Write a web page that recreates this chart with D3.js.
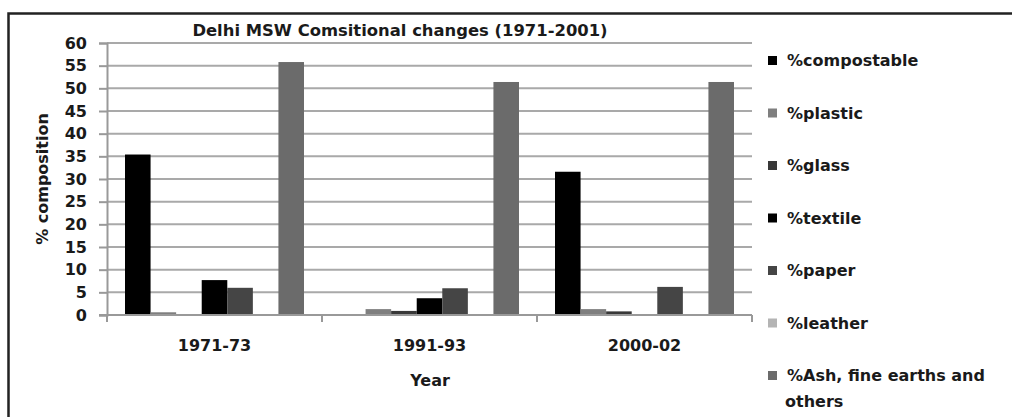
<!DOCTYPE html>
<html>
<head>
<meta charset="utf-8">
<script src="https://cdn.jsdelivr.net/npm/d3@7"></script>
<style>
  body { margin: 0; background: #fff; }
  svg text { font-family: "DejaVu Sans", sans-serif; font-weight: bold; fill: #1a1a1a; }
</style>
</head>
<body>
<svg class="chart"></svg>
<script>
const size = {w: 1012, h: 417};

// categories and series
const years = ['1971-73', '1991-93', '2000-02'];
const seriesNames = ['%compostable', '%plastic', '%glass', '%textile', '%paper', '%leather', '%Ash, fine earths and others'];
const seriesColors = ['#000000', '#7f7f7f', '#383838', '#000000', '#454545', '#b4b4b4', '#6b6b6b'];

const compostable = [35.4, 0, 31.6];
const plastic = [0.6, 1.3, 1.3];
const glass = [0, 0.9, 0.8];
const textile = [7.7, 3.7, 0];
const paper = [6.0, 5.9, 6.2];
const leather = [0, 0, 0];
const ash = [55.8, 51.4, 51.4];

const yTicks = [0, 5, 10, 15, 20, 25, 30, 35, 40, 45, 50, 55, 60];

const seriesValues = [compostable, plastic, glass, textile, paper, leather, ash];

const svg = d3.select('svg.chart')
    .attr('width', size.w)
    .attr('height', size.h);

svg.append('rect')
    .attr('width', size.w).attr('height', size.h)
    .attr('fill', '#fff');

// frame (only left and top edges are visible in the picture)
svg.append('path')
    .attr('d', `M8.5,${size.h} V13.5 H${size.w}`)
    .attr('fill', 'none')
    .attr('stroke', '#222')
    .attr('stroke-width', 2.5);

const plot = {left: 107, right: 752, top: 43, bottom: 315};

const x0 = d3.scaleBand()
    .domain(years)
    .range([plot.left, plot.right]);

const x1 = d3.scaleBand()
    .domain(d3.range(seriesNames.length))
    .range([18, 197]);

const y = d3.scaleLinear()
    .domain([0, 60])
    .range([plot.bottom, plot.top]);

// gridlines
svg.append('g')
    .selectAll('line')
    .data(yTicks.filter(d => d > 0))
    .join('line')
    .attr('x1', plot.left)
    .attr('x2', plot.right)
    .attr('y1', d => y(d))
    .attr('y2', d => y(d))
    .attr('stroke', '#a9a9a9')
    .attr('stroke-width', 2);

// bars
const groups = svg.append('g')
    .selectAll('g')
    .data(years)
    .join('g')
    .attr('transform', d => `translate(${x0(d)},0)`);

groups.selectAll('rect')
    .data((d, i) => seriesValues.map((vals, s) => ({s: s, v: vals[i]})))
    .join('rect')
    .attr('x', d => x1(d.s))
    .attr('width', x1.bandwidth())
    .attr('y', d => y(d.v))
    .attr('height', d => y(0) - y(d.v))
    .attr('fill', d => seriesColors[d.s]);

// y axis
const yAxis = svg.append('g')
    .attr('transform', `translate(${plot.left},0)`)
    .call(d3.axisLeft(y).tickValues(yTicks).tickSize(8).tickPadding(12));
yAxis.select('.domain').attr('stroke', '#999').attr('stroke-width', 2);
yAxis.selectAll('.tick line').attr('stroke', '#999').attr('stroke-width', 2);
yAxis.selectAll('.tick text')
    .attr('font-size', 16)
    .attr('font-weight', 'bold')
    .attr('fill', '#1a1a1a')
    .attr('font-family', '"DejaVu Sans", sans-serif');

// x axis: baseline and category dividers
const xAxis = svg.append('g');
xAxis.append('line')
    .attr('x1', plot.left - 8).attr('x2', plot.right)
    .attr('y1', plot.bottom).attr('y2', plot.bottom)
    .attr('stroke', '#999').attr('stroke-width', 2);
xAxis.selectAll('line.div')
    .data(years.map(d => x0(d)).concat([plot.right]))
    .join('line')
    .classed('div', true)
    .attr('x1', d => d).attr('x2', d => d)
    .attr('y1', plot.bottom).attr('y2', plot.bottom + 7)
    .attr('stroke', '#999').attr('stroke-width', 2);
xAxis.selectAll('text')
    .data(years)
    .join('text')
    .attr('x', d => x0(d) + x0.bandwidth() / 2)
    .attr('y', 351)
    .attr('text-anchor', 'middle')
    .attr('font-size', 16)
    .text(d => d);

// titles
svg.append('text')
    .attr('x', 400).attr('y', 36)
    .attr('text-anchor', 'middle')
    .attr('font-size', 16.4)
    .text('Delhi MSW Comsitional changes (1971-2001)');

svg.append('text')
    .attr('x', 430).attr('y', 386)
    .attr('text-anchor', 'middle')
    .attr('font-size', 16)
    .text('Year');

svg.append('text')
    .attr('transform', 'translate(48,179) rotate(-90)')
    .attr('text-anchor', 'middle')
    .attr('font-size', 16)
    .text('% composition');

// legend
const legend = svg.append('g')
    .selectAll('g')
    .data(seriesNames)
    .join('g')
    .attr('transform', (d, i) => `translate(768,${60 + i * 52.5})`);

legend.append('rect')
    .attr('x', 0).attr('y', -4)
    .attr('width', 9).attr('height', 9)
    .attr('fill', (d, i) => seriesColors[i]);

legend.append('text')
    .attr('x', 19).attr('y', 6)
    .attr('font-size', 16)
    .each(function (d) {
        const t = d3.select(this);
        if (d.startsWith('%Ash')) {
            t.append('tspan').attr('x', 19).text('%Ash, fine earths and');
            t.append('tspan').attr('x', 17).attr('dy', 26).text('others');
        } else {
            t.text(d);
        }
    });
</script>
</body>
</html>
